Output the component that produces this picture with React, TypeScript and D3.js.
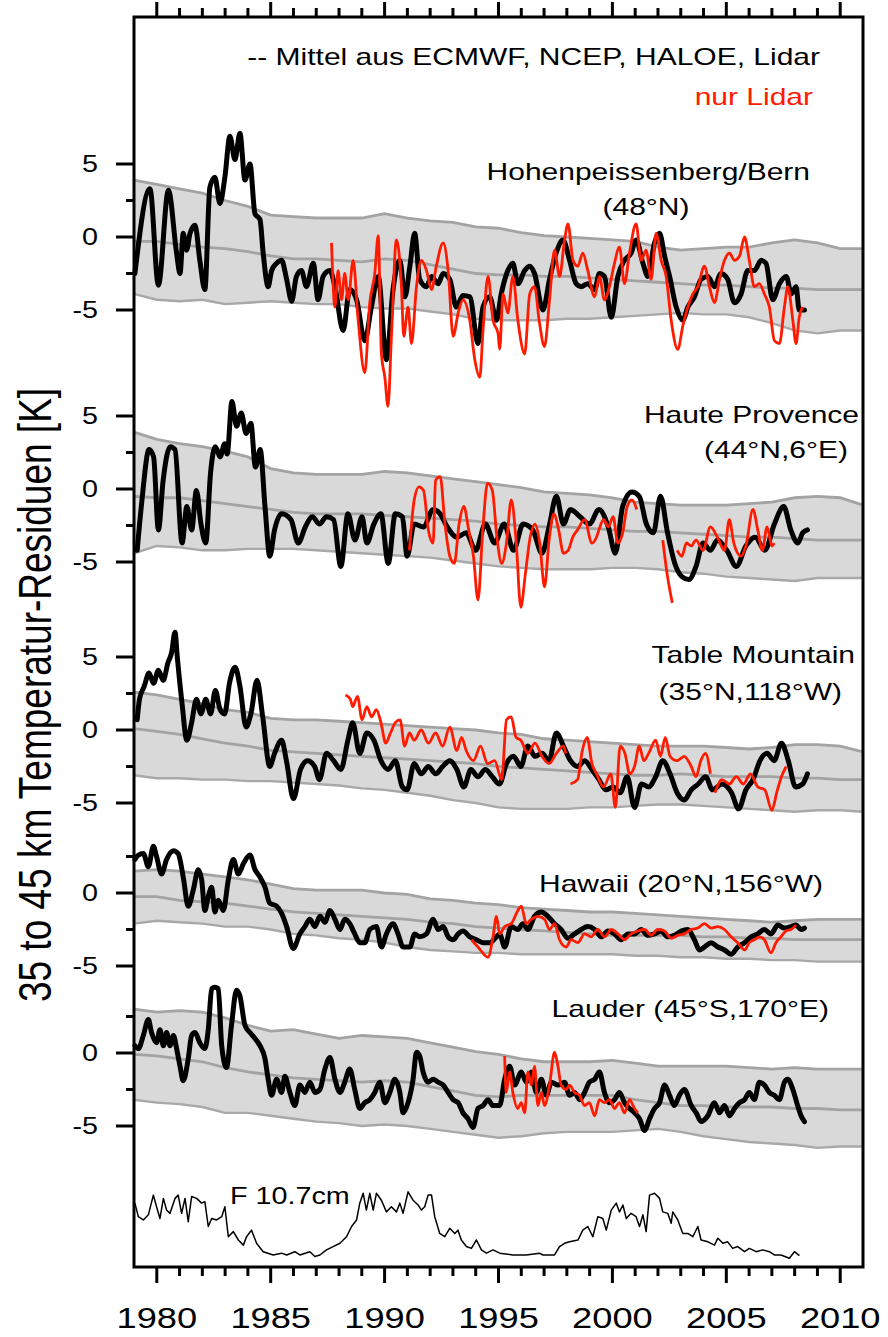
import * as d3 from "d3";

type Pt = [number, number | null];

const FONT = '"Liberation Sans", Arial, Helvetica, sans-serif';
const SX = 1.25; // the original figure is stretched horizontally
const RED = "#ff1a00";

const bandYears = d3.range(1979, 2012);
const tickYears = d3.range(1980, 2011);
const yearLabels = [1980, 1985, 1990, 1995, 2000, 2005, 2010];

// ---- Hohenpeissenberg/Bern (48N)
const hpbUpper = [3.9, 3.6, 3.3, 3.0, 2.5, 2.1, 1.5, 1.4, 1.3, 1.3, 1.3, 1.6, 1.3, 1.1, 1.0, 0.7, 0.6, 0.3, 0.1, 0.0, -0.1, -0.2, -0.3, -0.7, -0.9, -0.8, -0.7, -0.7, -0.4, -0.2, -0.4, -0.8, -0.8];
const hpbMid = [-0.3, -0.3, -0.5, -0.7, -0.8, -1.0, -1.3, -1.5, -1.5, -1.6, -1.7, -1.5, -1.6, -1.9, -2.2, -2.5, -2.6, -2.6, -2.7, -2.7, -2.8, -2.9, -3.0, -3.1, -3.2, -3.3, -3.3, -3.4, -3.5, -3.5, -3.6, -3.6, -3.6];
const hpbLower = [-3.9, -4.3, -4.4, -4.3, -4.6, -4.5, -4.4, -4.5, -4.6, -4.6, -4.8, -4.9, -4.9, -5.1, -5.3, -5.6, -5.7, -5.7, -5.7, -5.6, -5.6, -5.5, -5.4, -5.3, -5.2, -5.3, -5.3, -5.5, -5.9, -6.4, -6.6, -6.4, -6.4];
const hpbMean: Pt[] = [[1979.04,-2.5],[1979.70,3.3],[1980.07,-3.3],[1980.51,3.2],[1980.87,-1.1],[1981.02,-2.5],[1981.16,0.25],[1981.31,-0.9],[1981.46,0.25],[1981.68,0.8],[1981.89,-1.6],[1982.11,-3.6],[1982.33,3.4],[1982.55,4.1],[1982.77,2.3],[1982.99,4.1],[1983.21,6.9],[1983.43,5.3],[1983.65,7.1],[1983.87,3.9],[1984.09,5.0],[1984.31,1.6],[1984.53,1.2],[1984.67,-1.1],[1984.89,-3.4],[1985.04,-2.3],[1985.26,-1.8],[1985.48,-1.6],[1985.70,-2.9],[1985.92,-4.4],[1986.13,-2.7],[1986.35,-2.3],[1986.57,-3.4],[1986.87,-1.8],[1987.08,-4.3],[1987.30,-2.7],[1987.60,-2.3],[1987.82,-3.4],[1988.18,-6.4],[1988.47,-3.6],[1988.77,-4.3],[1989.13,-7.1],[1989.42,-4.8],[1989.72,-2.7],[1990.08,-8.4],[1990.37,-3.6],[1990.67,-1.6],[1990.89,-4.1],[1991.11,-2.0],[1991.32,0.25],[1991.54,-2.9],[1991.84,-3.4],[1992.06,-2.7],[1992.35,-3.2],[1992.57,-2.5],[1992.86,-2.9],[1993.15,-4.8],[1993.44,-4.0],[1993.74,-4.1],[1994.10,-7.3],[1994.32,-4.8],[1994.61,-4.1],[1994.91,-5.7],[1995.12,-3.9],[1995.41,-2.3],[1995.63,-1.8],[1995.85,-3.2],[1996.15,-2.3],[1996.37,-2.0],[1996.58,-2.5],[1996.95,-5.0],[1997.24,-2.9],[1997.53,-1.1],[1997.83,-0.2],[1998.12,-1.6],[1998.41,-3.2],[1998.63,-3.4],[1998.92,-3.2],[1999.22,-3.6],[1999.43,-2.5],[1999.65,-2.7],[1999.95,-5.5],[2000.24,-2.7],[2000.53,-1.6],[2000.82,-1.1],[2001.04,-0.2],[2001.34,-1.8],[2001.56,-2.7],[2001.85,-0.4],[2002.07,0.25],[2002.29,-1.3],[2002.51,-2.7],[2002.80,-4.8],[2003.09,-5.7],[2003.31,-4.8],[2003.60,-4.1],[2003.89,-2.9],[2004.19,-2.7],[2004.48,-3.4],[2004.77,-2.5],[2005.06,-2.9],[2005.36,-4.5],[2005.65,-3.9],[2005.94,-2.3],[2006.23,-2.3],[2006.53,-1.6],[2006.74,-1.8],[2007.04,-4.3],[2007.33,-3.2],[2007.63,-2.7],[2007.85,-3.9],[2008.06,-3.4],[2008.20,-5.0],[2008.43,-5.0]];
const hpbLidar: Pt[] = [[1987.67,-0.4],[1987.82,-4.8],[1987.96,-2.3],[1988.11,-4.3],[1988.25,-2.5],[1988.40,-4.3],[1988.62,-1.6],[1988.84,-5.7],[1989.13,-9.3],[1989.35,-4.5],[1989.57,-2.5],[1989.72,0.1],[1989.86,-8.0],[1990.01,-9.6],[1990.15,-11.6],[1990.30,-6.8],[1990.52,-0.2],[1990.74,-3.4],[1990.84,-6.8],[1991.03,-4.8],[1991.18,-7.3],[1991.40,-3.4],[1991.62,-1.6],[1991.84,-2.3],[1992.06,-3.6],[1992.27,-2.0],[1992.57,-0.4],[1992.79,-2.3],[1993.01,-6.8],[1993.23,-5.2],[1993.44,-4.3],[1993.74,-5.7],[1993.96,-8.4],[1994.18,-9.6],[1994.32,-6.4],[1994.54,-2.7],[1994.76,-5.7],[1994.98,-6.6],[1995.05,-7.7],[1995.20,-3.9],[1995.41,-5.2],[1995.63,-2.7],[1995.85,-5.7],[1996.15,-8.0],[1996.37,-3.9],[1996.58,-3.4],[1996.80,-5.9],[1997.02,-7.5],[1997.24,-4.3],[1997.46,-0.9],[1997.68,-2.7],[1997.90,-0.2],[1998.05,0.9],[1998.27,-1.6],[1998.48,-2.0],[1998.70,-1.1],[1998.92,-2.3],[1999.22,-4.1],[1999.43,-2.7],[1999.65,-4.3],[1999.87,-3.4],[2000.09,-1.8],[2000.31,-0.7],[2000.53,-3.2],[2000.75,-1.1],[2001.04,0.9],[2001.26,-1.6],[2001.48,-0.9],[2001.70,-2.9],[2001.92,0.25],[2002.14,-1.6],[2002.36,-2.7],[2002.58,-5.7],[2002.87,-7.7],[2003.09,-6.1],[2003.31,-4.8],[2003.53,-3.9],[2003.75,-3.4],[2004.04,-2.0],[2004.26,-3.4],[2004.48,-4.5],[2004.70,-2.9],[2004.92,-1.6],[2005.14,-1.1],[2005.36,-1.6],[2005.58,-1.3],[2005.80,0],[2006.01,-1.6],[2006.23,-3.4],[2006.45,-3.2],[2006.67,-3.9],[2006.89,-4.8],[2007.11,-7.1],[2007.33,-7.3],[2007.55,-4.8],[2007.70,-3.4],[2007.92,-5.7],[2008.06,-7.3],[2008.20,-5.5],[2008.35,-4.8]];

// ---- Haute Provence (44N, 6E)
const ohpUpper = [3.9, 3.4, 3.1, 2.9, 2.6, 2.2, 1.4, 1.1, 1.0, 1.0, 1.0, 1.2, 1.1, 0.9, 0.7, 0.5, 0.3, 0.1, -0.2, -0.3, -0.4, -0.6, -0.9, -1.0, -1.1, -1.1, -1.1, -1.0, -0.9, -0.6, -0.5, -0.6, -1.1];
const ohpMid = [-0.5, -0.6, -0.6, -0.8, -1.0, -1.2, -1.4, -1.6, -1.7, -1.7, -1.7, -1.8, -1.9, -2.0, -2.1, -2.2, -2.4, -2.5, -2.6, -2.6, -2.7, -2.8, -2.9, -2.9, -3.0, -3.1, -3.2, -3.3, -3.3, -3.4, -3.5, -3.5, -3.5];
const ohpLower = [-4.4, -3.9, -4.0, -4.2, -4.2, -4.1, -4.1, -4.1, -4.2, -4.3, -4.4, -4.5, -4.6, -4.7, -4.9, -5.1, -5.3, -5.4, -5.5, -5.5, -5.5, -5.4, -5.4, -5.5, -5.7, -5.8, -6.0, -6.1, -6.2, -6.3, -6.1, -6.1, -6.1];
const ohpMean: Pt[] = [[1979.14,-4.2],[1979.35,-0.75],[1979.66,2.7],[1979.86,2.2],[1980.07,-2.8],[1980.28,0.6],[1980.59,2.9],[1980.80,2.7],[1981.11,-3.7],[1981.32,-1.2],[1981.53,-2.8],[1981.74,-0.1],[1981.94,-2.4],[1982.15,-3.7],[1982.36,1.1],[1982.57,2.9],[1982.78,2.2],[1982.98,3.1],[1983.09,2.4],[1983.30,6.0],[1983.50,4.3],[1983.71,5.2],[1983.92,3.8],[1984.13,4.5],[1984.33,1.5],[1984.54,2.7],[1984.75,-1.2],[1984.96,-4.6],[1985.17,-2.8],[1985.48,-1.7],[1985.89,-2.1],[1986.21,-3.7],[1986.52,-2.6],[1986.83,-1.9],[1987.14,-2.4],[1987.45,-1.9],[1987.76,-2.1],[1988.08,-5.3],[1988.39,-1.7],[1988.70,-3.5],[1989.01,-1.9],[1989.22,-3.7],[1989.53,-2.4],[1989.84,-1.7],[1990.16,-5.1],[1990.47,-1.7],[1990.78,-1.9],[1990.99,-4.6],[1991.30,-2.4],[1991.71,-2.6],[1992.13,-1.4],[1992.44,-1.7],[1992.75,-2.6],[1993.17,-3.3],[1993.58,-3.0],[1994.00,-4.2],[1994.42,-2.4],[1994.83,-3.7],[1995.25,-2.4],[1995.66,-4.2],[1996.08,-2.4],[1996.50,-2.8],[1996.91,-4.4],[1997.22,-2.6],[1997.54,-0.5],[1997.85,-2.4],[1998.16,-1.4],[1998.58,-1.9],[1998.99,-2.4],[1999.41,-1.4],[1999.82,-2.6],[2000.13,-4.4],[2000.45,-1.2],[2000.86,-0.2],[2001.18,-0.5],[2001.49,-2.4],[2001.80,-3.0],[2002.11,-0.5],[2002.42,-3.0],[2002.74,-5.1],[2003.05,-6.0],[2003.36,-6.2],[2003.67,-5.3],[2003.98,-3.7],[2004.30,-4.2],[2004.61,-3.5],[2005.02,-4.2],[2005.44,-5.3],[2005.86,-3.9],[2006.27,-3.3],[2006.69,-4.2],[2007.11,-2.4],[2007.52,-1.2],[2007.83,-2.8],[2008.14,-3.7],[2008.35,-3.0],[2008.56,-2.8]];
const ohpLidar: Pt[] = [[1991.09,-4.2],[1991.30,-0.75],[1991.51,0.15],[1991.71,-0.1],[1991.92,-2.8],[1992.13,-3.7],[1992.24,0.6],[1992.44,0.85],[1992.65,-2.4],[1992.86,-4.6],[1993.06,-5.1],[1993.27,-2.4],[1993.48,-1.2],[1993.69,-2.8],[1993.90,-4.6],[1994.10,-7.6],[1994.31,-2.8],[1994.52,0.4],[1994.73,-0.1],[1994.93,-3.3],[1995.14,-5.1],[1995.35,-3.7],[1995.56,-0.75],[1995.77,-3.5],[1995.98,-8.1],[1996.18,-5.8],[1996.39,-3.3],[1996.60,-2.4],[1996.81,-3.7],[1997.02,-6.7],[1997.22,-3.5],[1997.43,-1.7],[1997.64,-2.8],[1997.85,-4.4],[1998.06,-4.2],[1998.26,-3.3],[1998.47,-2.8],[1998.78,-2.1],[1999.10,-3.7],[1999.30,-3.3],[1999.41,-2.8],[1999.61,-2.1],[1999.82,-2.6],[2000.03,-1.9],[2000.24,-3.7],[2000.45,-3.0],[2000.65,-1.2],[2000.86,-0.75],[2001.07,-1.4],[2001.6,null],[2002.21,-3.5],[2002.42,-6.0],[2002.63,-7.8],[2002.74,null],[2002.84,-4.2],[2003.05,-4.6],[2003.25,-3.7],[2003.46,-3.9],[2003.67,-3.5],[2003.98,-4.2],[2004.30,-2.6],[2004.61,-3.3],[2004.92,-4.2],[2005.13,-2.1],[2005.33,-3.7],[2005.65,-4.6],[2005.86,-3.9],[2006.17,-1.4],[2006.38,-2.8],[2006.58,-4.2],[2006.79,-2.6],[2007.00,-3.9],[2007.10,-3.7]];

// ---- Table Mountain (35N, 118W)
const tmfUpper = [2.6, 2.4, 2.1, 1.8, 1.4, 1.2, 0.8, 0.7, 0.7, 0.6, 0.5, 0.4, 0.3, 0.2, 0.1, 0.0, -0.2, -0.3, -0.6, -0.7, -0.8, -0.9, -1.0, -1.1, -1.1, -1.1, -1.2, -1.3, -1.2, -1.0, -1.0, -1.1, -1.5];
const tmfMid = [0.1, -0.1, -0.3, -0.6, -0.9, -1.1, -1.4, -1.5, -1.6, -1.7, -1.8, -1.9, -2.0, -2.1, -2.2, -2.3, -2.5, -2.6, -2.7, -2.8, -2.9, -3.0, -3.1, -3.1, -3.0, -3.1, -3.2, -3.2, -3.2, -3.3, -3.3, -3.4, -3.4];
const tmfLower = [-3.1, -3.3, -3.3, -3.4, -3.4, -3.5, -3.5, -3.6, -3.7, -3.8, -4.0, -4.1, -4.3, -4.5, -4.8, -5.0, -5.3, -5.4, -5.4, -5.4, -5.3, -5.3, -5.2, -5.1, -5.1, -5.2, -5.3, -5.4, -5.5, -5.6, -5.5, -5.5, -5.6];
const tmfMean: Pt[] = [[1979.14,0.7],[1979.24,2.1],[1979.45,3.0],[1979.66,3.9],[1979.86,3.2],[1980.07,4.1],[1980.28,3.4],[1980.49,4.6],[1980.65,5.3],[1980.80,6.7],[1980.90,5.0],[1981.11,1.8],[1981.32,-0.7],[1981.53,0.5],[1981.74,2.1],[1981.94,1.1],[1982.15,2.1],[1982.36,1.1],[1982.57,2.7],[1982.78,1.4],[1982.98,1.1],[1983.19,3.2],[1983.44,4.3],[1983.65,3.0],[1983.92,0.2],[1984.13,1.1],[1984.40,3.4],[1984.65,0.9],[1984.96,-2.5],[1985.17,-1.6],[1985.48,-0.7],[1985.69,-2.1],[1986.00,-4.7],[1986.31,-2.7],[1986.62,-2.1],[1986.93,-2.5],[1987.14,-3.4],[1987.45,-1.6],[1987.76,-2.1],[1988.08,-2.7],[1988.39,-0.7],[1988.60,0.5],[1988.91,-1.6],[1989.22,-0.2],[1989.53,-0.7],[1989.84,-2.1],[1990.16,-2.7],[1990.47,-2.1],[1990.78,-3.9],[1990.99,-4.1],[1991.30,-2.3],[1991.61,-3.0],[1991.92,-2.5],[1992.24,-3.0],[1992.55,-2.5],[1992.86,-2.1],[1993.17,-2.7],[1993.48,-3.9],[1993.79,-2.7],[1994.10,-3.2],[1994.42,-2.7],[1994.73,-3.2],[1995.04,-3.7],[1995.35,-2.3],[1995.66,-1.8],[1995.98,-2.5],[1996.29,-1.1],[1996.60,-1.8],[1996.91,-1.6],[1997.22,-2.1],[1997.54,-0.2],[1997.85,-1.1],[1998.16,-2.1],[1998.47,-2.5],[1998.78,-2.1],[1999.10,-2.7],[1999.41,-3.4],[1999.72,-4.1],[2000.03,-3.9],[2000.34,-4.3],[2000.65,-3.2],[2000.97,-5.3],[2001.28,-3.7],[2001.59,-3.9],[2001.90,-3.2],[2002.21,-2.1],[2002.53,-3.0],[2002.84,-4.3],[2003.15,-4.8],[2003.46,-4.1],[2003.77,-3.7],[2004.09,-3.2],[2004.40,-4.1],[2004.81,-3.7],[2005.23,-4.3],[2005.54,-5.4],[2005.86,-4.1],[2006.17,-3.4],[2006.48,-2.1],[2006.79,-1.6],[2007.10,-2.1],[2007.42,-0.9],[2007.72,-2.1],[2008.04,-3.9],[2008.35,-3.7],[2008.56,-3.0]];
const tmfLidar: Pt[] = [[1988.28,2.4],[1988.50,2.1],[1988.60,1.6],[1988.81,2.3],[1989.01,0.7],[1989.22,1.6],[1989.43,0.9],[1989.64,1.4],[1989.84,0.5],[1990.05,-0.9],[1990.26,-0.2],[1990.47,0.5],[1990.68,0.7],[1990.88,-1.1],[1991.09,-0.2],[1991.30,-0.7],[1991.61,0],[1991.92,-0.9],[1992.24,-0.2],[1992.55,-1.1],[1992.86,0.2],[1993.17,-1.4],[1993.38,-0.5],[1993.58,-1.4],[1993.90,-2.1],[1994.21,-1.1],[1994.52,-2.3],[1994.83,-2.1],[1995.14,-3.4],[1995.35,0.7],[1995.56,0.9],[1995.77,-0.5],[1995.98,-0.7],[1996.29,-1.6],[1996.60,-0.9],[1996.91,-1.8],[1997.22,-2.3],[1997.54,-1.6],[1997.85,-1.1],[1997.95,-1.6],[1998.05,null],[1998.16,-3.7],[1998.47,-3.4],[1998.68,-1.4],[1998.89,-0.5],[1999.10,-2.3],[1999.30,-3.0],[1999.61,-3.9],[1999.93,-3.0],[2000.13,-5.3],[2000.34,-1.1],[2000.55,-1.6],[2000.76,-3.0],[2000.97,-2.5],[2001.18,-1.1],[2001.38,-2.1],[2001.59,-1.6],[2001.90,-0.7],[2002.11,-1.8],[2002.32,-0.5],[2002.53,-1.8],[2002.84,-2.1],[2003.15,-1.8],[2003.46,-2.5],[2003.67,-3.2],[2003.88,-2.1],[2004.09,-1.6],[2004.30,-3.0],[2004.40,null],[2004.50,-4.3],[2004.81,-3.4],[2005.13,-3.7],[2005.44,-3.2],[2005.75,-3.7],[2006.06,-3.0],[2006.38,-3.9],[2006.69,-4.1],[2007.00,-5.5],[2007.21,-4.3],[2007.42,-3.2],[2007.63,-2.5]];

// ---- Hawaii (20N, 156W)
const mloUpper = [1.5, 1.6, 1.5, 1.3, 1.1, 0.9, 0.6, 0.3, 0.2, 0.2, 0.2, 0.0, -0.1, -0.4, -0.5, -0.7, -0.8, -1.0, -1.1, -1.2, -1.3, -1.3, -1.4, -1.5, -1.6, -1.7, -1.8, -1.9, -2.0, -1.9, -1.8, -1.8, -1.8];
const mloMid = [-0.25, -0.25, -0.5, -0.6, -0.7, -0.9, -1.1, -1.3, -1.4, -1.5, -1.6, -1.7, -1.8, -2.0, -2.1, -2.3, -2.4, -2.5, -2.6, -2.7, -2.8, -2.9, -2.9, -2.9, -2.9, -3.0, -3.0, -3.1, -3.1, -3.2, -3.2, -3.2, -3.2];
const mloLower = [-2.1, -1.9, -2.0, -2.1, -2.3, -2.3, -2.5, -2.8, -2.9, -3.1, -3.2, -3.4, -3.7, -3.9, -4.0, -4.1, -4.1, -4.2, -4.2, -4.2, -4.2, -4.2, -4.3, -4.3, -4.4, -4.4, -4.5, -4.5, -4.6, -4.6, -4.7, -4.7, -4.7];
const mloMean: Pt[] = [[1979.04,2.3],[1979.19,2.6],[1979.41,2.7],[1979.63,1.8],[1979.85,3.2],[1979.99,2.5],[1980.21,1.3],[1980.43,2.3],[1980.73,2.9],[1980.94,2.7],[1981.16,1.1],[1981.38,-0.9],[1981.60,0.2],[1981.82,1.6],[1981.97,0.9],[1982.11,-1.2],[1982.26,-0.25],[1982.41,0.4],[1982.55,-1.3],[1982.70,-0.5],[1982.92,-1.2],[1983.14,0.9],[1983.36,2.3],[1983.58,1.3],[1983.80,2.0],[1984.09,2.6],[1984.31,1.6],[1984.53,1.1],[1984.75,0.4],[1984.96,-0.7],[1985.26,-0.9],[1985.48,-1.4],[1985.70,-2.3],[1985.99,-3.8],[1986.28,-2.8],[1986.50,-2.3],[1986.72,-1.8],[1986.94,-2.3],[1987.16,-1.6],[1987.38,-2.0],[1987.60,-1.2],[1987.82,-1.8],[1988.04,-2.5],[1988.25,-1.8],[1988.47,-2.1],[1988.69,-2.8],[1988.91,-3.4],[1989.13,-3.4],[1989.35,-2.5],[1989.64,-2.3],[1989.86,-3.7],[1990.08,-2.8],[1990.37,-2.1],[1990.59,-2.8],[1990.81,-3.7],[1991.11,-3.7],[1991.32,-2.8],[1991.54,-3.0],[1991.84,-2.8],[1992.13,-1.8],[1992.35,-2.5],[1992.57,-2.3],[1992.79,-3.0],[1993.01,-3.2],[1993.23,-2.8],[1993.44,-2.6],[1993.74,-3.0],[1994.03,-3.2],[1994.32,-3.4],[1994.61,-3.4],[1994.91,-3.0],[1995.05,-2.8],[1995.27,-3.7],[1995.56,-2.3],[1995.85,-2.5],[1996.07,-2.1],[1996.29,-2.5],[1996.58,-1.6],[1996.88,-1.3],[1997.17,-1.6],[1997.46,-2.1],[1997.75,-2.5],[1998.05,-3.1],[1998.34,-2.8],[1998.63,-2.5],[1998.92,-2.3],[1999.22,-2.5],[1999.51,-3.0],[1999.80,-2.6],[2000.09,-2.8],[2000.39,-3.2],[2000.68,-2.8],[2000.97,-2.8],[2001.26,-2.5],[2001.56,-2.9],[2001.85,-2.8],[2002.14,-2.6],[2002.43,-3.0],[2002.72,-2.9],[2003.02,-2.6],[2003.31,-2.5],[2003.60,-3.2],[2003.82,-3.9],[2004.04,-3.7],[2004.33,-3.4],[2004.63,-3.7],[2004.92,-3.9],[2005.21,-4.2],[2005.50,-3.7],[2005.80,-3.4],[2006.09,-3.0],[2006.38,-2.8],[2006.67,-2.5],[2006.96,-2.8],[2007.26,-2.2],[2007.55,-2.4],[2007.84,-2.3],[2008.06,-2.2],[2008.28,-2.5],[2008.43,-2.4]];
const mloLidar: Pt[] = [[1993.81,-3.2],[1994.10,-3.7],[1994.54,-4.4],[1994.76,-3.0],[1994.91,-1.6],[1995.05,-2.8],[1995.27,-2.3],[1995.56,-2.1],[1995.85,-1.2],[1996.00,-0.9],[1996.22,-2.1],[1996.44,-1.8],[1996.73,-1.6],[1997.02,-1.8],[1997.24,-2.5],[1997.46,-2.1],[1997.68,-3.2],[1997.97,-3.7],[1998.19,-3.2],[1998.48,-3.4],[1998.78,-2.8],[1999.07,-3.0],[1999.36,-2.5],[1999.65,-3.0],[1999.95,-2.5],[2000.24,-2.8],[2000.53,-3.2],[2000.82,-2.8],[2001.12,-2.6],[2001.41,-2.5],[2001.70,-2.9],[2001.99,-2.5],[2002.29,-2.6],[2002.58,-3.1],[2002.87,-2.9],[2003.16,-2.8],[2003.46,-2.5],[2003.75,-2.4],[2004.04,-2.1],[2004.33,-2.4],[2004.63,-2.3],[2004.92,-2.5],[2005.21,-3.0],[2005.50,-3.4],[2005.80,-3.9],[2006.01,-3.4],[2006.23,-3.2],[2006.45,-3.0],[2006.67,-3.2],[2006.96,-4.1],[2007.18,-3.4],[2007.40,-3.0],[2007.62,-2.6],[2007.84,-2.5],[2008.06,-2.2]];

// ---- Lauder (45S, 170E)
const ldrUpper = [3.0, 2.8, 2.9, 2.8, 2.4, 1.9, 1.5, 1.6, 1.3, 1.0, 1.2, 1.1, 1.0, 0.7, 0.4, 0.1, -0.1, -0.4, -0.6, -0.6, -0.6, -0.5, -0.7, -0.9, -0.9, -0.9, -0.9, -1.0, -1.1, -1.0, -1.1, -1.1, -1.1];
const ldrMid = [-0.1, -0.2, -0.4, -0.6, -1.0, -1.3, -1.5, -1.7, -1.8, -1.9, -2.0, -1.9, -2.0, -2.3, -2.6, -2.9, -3.0, -2.9, -2.9, -2.9, -2.9, -2.9, -3.2, -3.4, -3.6, -3.6, -3.7, -3.7, -3.7, -3.8, -3.8, -3.9, -3.9];
const ldrLower = [-3.2, -3.4, -3.5, -3.7, -4.1, -4.1, -4.3, -4.5, -4.7, -4.8, -5.0, -4.9, -5.0, -5.2, -5.4, -5.6, -5.8, -5.7, -5.5, -5.4, -5.4, -5.4, -5.3, -5.2, -5.4, -5.7, -5.9, -6.1, -6.2, -6.3, -6.5, -6.4, -6.4];
const ldrMean: Pt[] = [[1979.04,0.5],[1979.19,0.3],[1979.41,1.2],[1979.63,2.3],[1979.77,1.4],[1979.99,0.7],[1980.14,1.6],[1980.29,0.5],[1980.43,1.4],[1980.58,0.5],[1980.73,1.2],[1980.87,0.3],[1981.02,-0.9],[1981.16,-1.9],[1981.38,-0.4],[1981.53,1.2],[1981.68,1.4],[1981.89,0.7],[1982.11,0.3],[1982.26,1.6],[1982.41,4.4],[1982.55,4.5],[1982.70,4.4],[1982.85,0.5],[1983.06,-1.0],[1983.28,1.9],[1983.50,4.3],[1983.65,3.9],[1983.87,1.9],[1984.09,1.4],[1984.31,1.0],[1984.53,0.5],[1984.75,-0.4],[1984.89,-1.8],[1985.04,-2.9],[1985.26,-1.8],[1985.48,-2.7],[1985.62,-1.6],[1985.84,-2.7],[1986.06,-3.6],[1986.28,-2.2],[1986.50,-2.7],[1986.72,-2.0],[1986.94,-2.7],[1987.16,-2.5],[1987.38,-1.1],[1987.60,-0.3],[1987.82,-1.8],[1988.04,-2.7],[1988.25,-2.0],[1988.47,-1.1],[1988.69,-2.5],[1988.91,-3.8],[1989.13,-3.4],[1989.35,-3.2],[1989.57,-2.7],[1989.79,-2.0],[1990.01,-3.4],[1990.23,-2.7],[1990.45,-1.8],[1990.67,-2.7],[1990.81,-4.1],[1991.03,-3.4],[1991.25,-1.8],[1991.40,0.05],[1991.54,-0.2],[1991.69,-1.3],[1991.91,-2.0],[1992.13,-1.8],[1992.35,-2.0],[1992.57,-2.2],[1992.79,-2.7],[1993.01,-3.2],[1993.23,-3.4],[1993.44,-4.1],[1993.66,-4.5],[1993.88,-5.1],[1994.10,-3.8],[1994.32,-3.6],[1994.54,-3.2],[1994.76,-3.6],[1994.91,-3.6],[1995.05,-3.6],[1995.27,-1.8],[1995.49,-0.9],[1995.71,-2.2],[1996.00,-1.3],[1996.22,-2.0],[1996.44,-1.3],[1996.66,-2.7],[1996.88,-1.8],[1997.10,-2.9],[1997.32,-2.0],[1997.61,-2.2],[1997.90,-2.0],[1998.12,-2.9],[1998.34,-2.7],[1998.56,-3.2],[1998.78,-2.7],[1998.99,-2.0],[1999.22,-1.8],[1999.43,-1.3],[1999.65,-2.7],[1999.87,-3.4],[2000.09,-3.2],[2000.31,-2.7],[2000.53,-3.4],[2000.75,-3.8],[2000.97,-4.1],[2001.19,-4.5],[2001.41,-5.3],[2001.63,-4.5],[2001.85,-3.8],[2002.07,-3.4],[2002.29,-2.2],[2002.51,-2.9],[2002.72,-3.6],[2002.94,-2.9],[2003.16,-2.5],[2003.46,-3.6],[2003.68,-4.1],[2003.89,-4.7],[2004.19,-4.3],[2004.48,-3.4],[2004.70,-4.1],[2004.92,-3.6],[2005.14,-4.3],[2005.36,-3.8],[2005.58,-3.4],[2005.80,-3.2],[2006.01,-2.7],[2006.23,-3.2],[2006.45,-2.0],[2006.67,-2.2],[2006.89,-2.7],[2007.11,-2.9],[2007.33,-3.2],[2007.55,-2.0],[2007.70,-1.8],[2007.92,-2.5],[2008.13,-3.6],[2008.28,-4.3],[2008.43,-4.7]];
const ldrLidar: Pt[] = [[1995.27,-0.2],[1995.34,-2.7],[1995.49,-1.3],[1995.63,-2.7],[1995.85,-3.8],[1996.00,-3.4],[1996.15,-4.1],[1996.29,-1.3],[1996.44,-2.2],[1996.58,-0.9],[1996.73,-3.6],[1996.88,-2.7],[1997.02,-3.6],[1997.24,-2.2],[1997.46,0.05],[1997.61,-0.9],[1997.75,-2.2],[1997.97,-2.5],[1998.12,-2.2],[1998.34,-2.7],[1998.56,-2.9],[1998.78,-3.6],[1998.99,-3.4],[1999.22,-4.3],[1999.43,-3.2],[1999.65,-3.4],[1999.87,-3.2],[2000.09,-3.8],[2000.31,-3.4],[2000.53,-4.1],[2000.75,-3.2],[2000.97,-3.8],[2001.12,-4.1]];

// ---- solar flux F10.7 (sfu)
const f107: [number, number][] = [[1979.04,214],[1979.19,177],[1979.41,168],[1979.63,182],[1979.85,236],[1979.99,204],[1980.14,172],[1980.29,227],[1980.43,195],[1980.58,186],[1980.80,227],[1980.94,236],[1981.09,186],[1981.24,227],[1981.38,163],[1981.53,232],[1981.75,227],[1981.97,214],[1982.11,218],[1982.26,150],[1982.41,172],[1982.63,168],[1982.85,177],[1982.99,204],[1983.14,122],[1983.36,136],[1983.58,113],[1983.80,99],[1983.94,122],[1984.16,140],[1984.38,104],[1984.67,81],[1985.11,72],[1985.48,77],[1985.70,72],[1986.06,81],[1986.28,72],[1986.72,81],[1986.94,68],[1987.16,72],[1987.45,86],[1987.74,95],[1988.04,104],[1988.33,122],[1988.55,150],[1988.77,168],[1988.91,214],[1989.06,241],[1989.20,195],[1989.35,241],[1989.50,195],[1989.64,241],[1989.86,222],[1990.08,190],[1990.30,204],[1990.52,190],[1990.67,214],[1990.81,186],[1991.03,245],[1991.25,222],[1991.47,209],[1991.62,195],[1991.76,204],[1991.91,236],[1992.06,236],[1992.20,177],[1992.42,131],[1992.64,122],[1992.86,145],[1993.08,131],[1993.22,140],[1993.37,113],[1993.59,95],[1993.81,90],[1994.03,113],[1994.25,86],[1994.47,77],[1994.76,86],[1995.05,77],[1995.63,72],[1996.22,72],[1996.80,77],[1996.95,72],[1997.46,72],[1997.68,95],[1997.90,104],[1998.12,108],[1998.49,113],[1998.70,140],[1998.92,150],[1999.14,122],[1999.36,177],[1999.58,172],[1999.73,140],[1999.95,195],[2000.17,214],[2000.31,190],[2000.46,209],[2000.61,172],[2000.82,186],[2001.04,177],[2001.19,150],[2001.34,182],[2001.48,136],[2001.63,236],[2001.85,241],[2002.07,227],[2002.21,190],[2002.43,186],[2002.58,159],[2002.65,190],[2002.87,168],[2003.09,131],[2003.31,131],[2003.53,122],[2003.75,150],[2003.89,113],[2004.19,108],[2004.48,99],[2004.63,118],[2004.85,104],[2005.06,108],[2005.28,90],[2005.50,95],[2005.80,81],[2006.01,90],[2006.31,81],[2006.60,86],[2006.89,81],[2007.11,72],[2007.40,72],[2007.77,63],[2007.99,81],[2008.21,70]];

const panels = [
  { zero: 237, ticks: [-5, -2.5, 0, 2.5, 5], labels: [-5, 0, 5], upper: hpbUpper, mid: hpbMid, lower: hpbLower, mean: hpbMean, lidar: hpbLidar },
  { zero: 489, ticks: [-5, -2.5, 0, 2.5, 5], labels: [-5, 0, 5], upper: ohpUpper, mid: ohpMid, lower: ohpLower, mean: ohpMean, lidar: ohpLidar },
  { zero: 730, ticks: [-5, -2.5, 0, 2.5, 5], labels: [-5, 0, 5], upper: tmfUpper, mid: tmfMid, lower: tmfLower, mean: tmfMean, lidar: tmfLidar },
  { zero: 893, ticks: [-5, -2.5, 0, 2.5], labels: [-5, 0], upper: mloUpper, mid: mloMid, lower: mloLower, mean: mloMean, lidar: mloLidar },
  { zero: 1053, ticks: [-5, -2.5, 0, 2.5], labels: [-5, 0], upper: ldrUpper, mid: ldrMid, lower: ldrLower, mean: ldrMean, lidar: ldrLidar },
];

const titles = [
  { text: "-- Mittel aus ECMWF, NCEP, HALOE, Lidar", x: 820, y: 65, anchor: "end", fill: "#000" },
  { text: "nur Lidar", x: 813, y: 105, anchor: "end", fill: RED },
  { text: "Hohenpeissenberg/Bern", x: 810, y: 180, anchor: "end", fill: "#000" },
  { text: "(48°N)", x: 646, y: 215, anchor: "middle", fill: "#000" },
  { text: "Haute Provence", x: 859, y: 423, anchor: "end", fill: "#000" },
  { text: "(44°N,6°E)", x: 848, y: 458, anchor: "end", fill: "#000" },
  { text: "Table Mountain", x: 855, y: 663, anchor: "end", fill: "#000" },
  { text: "(35°N,118°W)", x: 842, y: 700, anchor: "end", fill: "#000" },
  { text: "Hawaii (20°N,156°W)", x: 823, y: 892, anchor: "end", fill: "#000" },
  { text: "Lauder (45°S,170°E)", x: 829, y: 1017, anchor: "end", fill: "#000" },
];

function Txt({ x, y, size, anchor = "start", fill = "#000", rotate = 0, children }: any) {
  const t = `translate(${x},${y}) scale(${SX},1)` + (rotate ? ` rotate(${rotate})` : "");
  return (
    <text transform={t} fontSize={size} textAnchor={anchor} fill={fill}>
      {children}
    </text>
  );
}

export default function App() {
  const left = 134, right = 863, top = 17, bottom = 1267;
  const kpx = 14.6;
  const x = d3.scaleLinear().domain([1979, 2011]).range([left, right]);
  const yF = d3.scaleLinear().domain([50, 250]).range([1263, 1190]);
  const fLine = d3.line<[number, number]>().x(d => x(d[0])).y(d => yF(d[1]));

  return (
    <div style={{ position: "absolute", left: 0, top: 0, background: "#fff" }}>
      <svg width={888} height={1337} style={{ display: "block", background: "#fff" }} fontFamily={FONT}>
        {panels.map((p, i) => {
          const y = d3.scaleLinear().domain([-5, 5]).range([p.zero + 5 * kpx, p.zero - 5 * kpx]);
          const area = d3.area<number>()
            .x((_, j) => x(bandYears[j]))
            .y0((_, j) => y(p.lower[j]))
            .y1(d => y(d));
          const edge = d3.line<number>().x((_, j) => x(bandYears[j])).y(d => y(d));
          const series = d3.line<Pt>()
            .defined(d => d[1] != null)
            .x(d => x(d[0]))
            .y(d => y(d[1] as number))
            .curve(d3.curveMonotoneX);
          return (
            <g key={i}>
              <path d={area(p.upper) || ""} fill="#d9d9d9" />
              <path d={edge(p.upper) || ""} fill="none" stroke="#a3a3a3" strokeWidth={2.8} />
              <path d={edge(p.mid) || ""} fill="none" stroke="#a3a3a3" strokeWidth={2.8} />
              <path d={edge(p.lower) || ""} fill="none" stroke="#a8a8a8" strokeWidth={2.4} />
              <path d={series(p.mean) || ""} fill="none" stroke="#000" strokeWidth={5} strokeLinejoin="round" strokeLinecap="round" />
              <path d={series(p.lidar) || ""} fill="none" stroke={RED} strokeWidth={2.8} strokeLinejoin="round" />
              {p.ticks.map(t => {
                const major = t % 5 === 0;
                return <line key={t} x1={left - (major ? 18 : 8)} x2={left} y1={y(t)} y2={y(t)} stroke="#000" strokeWidth={3} />;
              })}
              {p.labels.map(t => (
                <Txt key={t} x={98} y={y(t) + 8} size={23} anchor="end">{String(t)}</Txt>
              ))}
            </g>
          );
        })}

        <path d={fLine(f107) || ""} fill="none" stroke="#000" strokeWidth={1.5} strokeLinejoin="round" />
        <Txt x={230} y={1204} size={23}>F 10.7cm</Txt>

        {/* frame */}
        <rect x={left} y={top} width={right - left} height={bottom - top} fill="none" stroke="#000" strokeWidth={3} />
        {tickYears.map(yr => {
          const major = yr % 5 === 0;
          return (
            <g key={yr}>
              <line x1={x(yr)} x2={x(yr)} y1={top} y2={top - (major ? 15 : 9)} stroke="#000" strokeWidth={3} />
              <line x1={x(yr)} x2={x(yr)} y1={bottom} y2={bottom + (major ? 16 : 9)} stroke="#000" strokeWidth={3} />
            </g>
          );
        })}
        {yearLabels.map(yr => (
          <Txt key={yr} x={x(yr)} y={1328} size={29} anchor="middle">{String(yr)}</Txt>
        ))}

        {titles.map((t, i) => (
          <Txt key={i} x={t.x} y={t.y} size={24} anchor={t.anchor} fill={t.fill}>{t.text}</Txt>
        ))}

        <Txt x={51} y={695} size={37} anchor="middle" rotate={-90}>35 to 45 km Temperatur-Residuen [K]</Txt>
      </svg>
    </div>
  );
}
